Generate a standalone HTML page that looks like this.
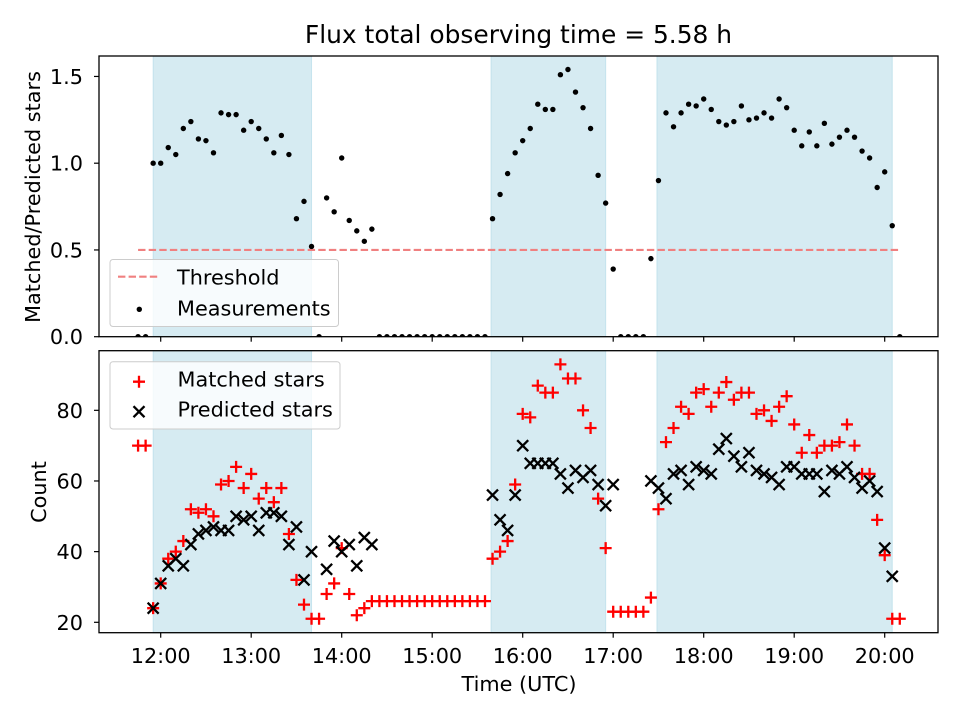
<!DOCTYPE html>
<html><head><meta charset="utf-8"><style>
html,body{margin:0;padding:0;background:#fff;}
svg{display:block;font-family:"DejaVu Sans","Liberation Sans",sans-serif;}
</style></head><body>
<svg id="fig" width="960" height="720" viewBox="0 0 960 720" xmlns="http://www.w3.org/2000/svg">
<defs>
<clipPath id="clipTop"><rect x="99" y="56" width="839" height="280.7"/></clipPath>
<clipPath id="clipBot"><rect x="99" y="350.7" width="839" height="282"/></clipPath>
</defs>
<rect width="960" height="720" fill="#fff"/>
<text x="518.5" y="43" text-anchor="middle" font-size="24.9" fill="#000">Flux total observing time = 5.58 h</text>
<g id="topPanel"></g>
<g id="botPanel"></g>
<text x="519" y="691" text-anchor="middle" font-size="20.8">Time (UTC)</text>
<text transform="translate(40,197) rotate(-90)" text-anchor="middle" font-size="20.8">Matched/Predicted stars</text>
<text transform="translate(46,492) rotate(-90)" text-anchor="middle" font-size="20.8">Count</text>
</svg>
<script>
const times = ("11:45 11:50 11:55 12:00 12:05 12:10 12:15 12:20 12:25 12:30 12:35 12:40 12:45 12:50 12:55 " +
"13:00 13:05 13:10 13:15 13:20 13:25 13:30 13:35 13:40 13:45 13:50 13:55 14:00 14:05 14:10 14:15 14:20 14:25 14:30 14:35 14:40 14:45 14:50 14:55 " +
"15:00 15:05 15:10 15:15 15:20 15:25 15:30 15:35 15:40 15:45 15:50 15:55 16:00 16:05 16:10 16:15 16:20 16:25 16:30 16:35 16:40 16:45 16:50 16:55 " +
"17:00 17:05 17:10 17:15 17:20 17:25 17:30 17:35 17:40 17:45 17:50 17:55 18:00 18:05 18:10 18:15 18:20 18:25 18:30 18:35 18:40 18:45 18:50 18:55 " +
"19:00 19:05 19:10 19:15 19:20 19:25 19:30 19:35 19:40 19:45 19:50 19:55 20:00 20:05 20:10").split(" ");
const ratio = [0,0,1.00,1.00,1.09,1.05,1.20,1.24,1.14,1.13,1.06,1.29,1.28,1.28,1.19,1.24,1.20,1.14,1.06,1.16,1.05,0.68,0.78,0.52,0,0.80,0.72,1.03,0.67,0.61,0.55,0.62,
0,0,0,0,0,0,0,0,0,0,0,0,0,0,0,
0.68,0.82,0.94,1.06,1.13,1.20,1.34,1.31,1.31,1.51,1.54,1.41,1.32,1.20,0.93,0.77,0.39,
0,0,0,0,
0.45,0.90,1.29,1.21,1.29,1.34,1.33,1.37,1.31,1.24,1.22,1.24,1.33,1.25,1.26,1.29,1.26,1.37,1.32,1.19,1.10,1.18,1.10,1.23,1.11,1.15,1.19,1.15,1.07,1.03,0.86,0.95,0.64,0];
const matched = [70,70,24,31,38,40,43,52,51,52,50,59,60,64,58,62,55,58,54,58,45,32,25,21,21,28,31,41,28,22,24,26,
26,26,26,26,26,26,26,26,26,26,26,26,26,26,26,
38,40,43,59,79,78,87,85,85,93,89,89,80,75,55,41,23,
23,23,23,23,
27,52,71,75,81,79,85,86,81,85,88,83,85,85,79,80,77,81,84,76,68,73,68,70,70,71,76,70,62,62,49,39,21,21];
const predicted = [null,null,24,31,36,38,36,42,45,46,47,46,46,50,49,50,46,51,51,50,42,47,32,40,null,35,43,40,42,36,44,42,
null,null,null,null,null,null,null,null,null,null,null,null,null,null,null,
56,49,46,56,70,65,65,65,65,62,58,63,61,63,59,53,59,
null,null,null,null,
60,58,55,62,63,59,64,63,62,69,72,67,64,68,63,62,61,59,64,64,62,62,62,57,63,62,64,61,58,60,57,41,33,null];
const spanStart = ["11:55","15:39","17:29"];
const spanEnd = ["13:40","16:55","20:05"];
const xTicks = ["12:00","13:00","14:00","15:00","16:00","17:00","18:00","19:00","20:00"];
const topYTicks = [0.0,0.5,1.0,1.5];
const botYTicks = [20,40,60,80];
const threshold = 0.5;

const NS="http://www.w3.org/2000/svg";
const L=99,R=938,TT=56,TB=336.7,BT=350.7,BB=632.7;
function hrs(s){const p=s.split(":");return +p[0]+(+p[1])/60;}
function X(s){return 160.7+90.5*(hrs(s)-12);}
function YT(v){return TB-v*173.5;}
function YB(v){return 622.3-(v-20)*3.533;}
function mk(tag,attrs,parent){const e=document.createElementNS(NS,tag);for(const k in attrs)e.setAttribute(k,attrs[k]);parent.appendChild(e);return e;}
const topG=document.getElementById('topPanel'), botG=document.getElementById('botPanel');

function panel(g,y0,y1,clip,yTicks,Y,fmt,nm){
  for(let i=0;i<spanStart.length;i++){
    const r=mk('rect',{x:X(spanStart[i]),y:y0,width:X(spanEnd[i])-X(spanStart[i]),height:y1-y0,fill:'#add8e6','fill-opacity':0.5,stroke:'#add8e6','stroke-opacity':0.6,'stroke-width':1},g);
    
    
  }
  const marks=mk('g',{'clip-path':'url(#'+clip+')'},g);
  
  
  for(const t of xTicks){
    const tk=mk('line',{x1:X(t),x2:X(t),y1:y1,y2:y1+5,stroke:'#000','stroke-width':1.2},g);
    
    
  }
  for(const v of yTicks){
    const tk=mk('line',{x1:L-5,x2:L,y1:Y(v),y2:Y(v),stroke:'#000','stroke-width':1.2},g);
    
    
    const tl=mk('text',{x:83,y:Y(v)+7.5,'text-anchor':'end','font-size':20.8},g);
    tl.textContent=fmt(v);
    
    
  }
  return marks;
}
const topMarks=panel(topG,TT,TB,'clipTop',topYTicks,YT,v=>v.toFixed(1),'top');
const botMarks=panel(botG,BT,BB,'clipBot',botYTicks,YB,v=>String(v),'bottom');

const th=mk('line',{x1:X(times[0]),x2:X(times[times.length-1]),y1:YT(threshold),y2:YT(threshold),stroke:'#f08080','stroke-width':2.2,'stroke-dasharray':'7.4,3.2'},topMarks);


ratio.forEach((v,i)=>{
  const c=mk('circle',{cx:X(times[i]),cy:YT(v),r:2.7,fill:'#000'},topMarks);
  
  
});
function plus(g,x,y){return mk('path',{d:`M${x-6},${y}H${x+6}M${x},${y-6}V${y+6}`,stroke:'#f00','stroke-width':2.3,fill:'none'},g);}
function cross(g,x,y){return mk('path',{d:`M${x-5.5},${y-5.5}L${x+5.5},${y+5.5}M${x-5.5},${y+5.5}L${x+5.5},${y-5.5}`,stroke:'#000','stroke-width':2.3,fill:'none'},g);}
matched.forEach((v,i)=>{
  if(v===null)return;
  const p=plus(botMarks,X(times[i]),YB(v));
  
  
});
predicted.forEach((v,i)=>{
  if(v===null)return;
  const p=cross(botMarks,X(times[i]),YB(v));
  
  
});
for(const t of xTicks){
  const tl=mk('text',{x:X(t),y:663,'text-anchor':'middle','font-size':20.8},botG);
  tl.textContent=t;
  
  
}
const f1=mk('rect',{x:L,y:TT,width:R-L,height:TB-TT,fill:'none',stroke:'#000','stroke-width':1.3},topG);


const f2=mk('rect',{x:L,y:BT,width:R-L,height:BB-BT,fill:'none',stroke:'#000','stroke-width':1.3},botG);



const lg1=mk('g',{},topG);


mk('rect',{x:110,y:259.5,width:228.5,height:67,rx:3,fill:'#fff','fill-opacity':0.8,stroke:'#ccc','stroke-width':1},lg1);
mk('line',{x1:118,x2:160,y1:276.7,y2:276.7,stroke:'#f08080','stroke-width':2.2,'stroke-dasharray':'7.4,3.2'},lg1);
let t1=mk('text',{x:177,y:284.5,'font-size':20.8},lg1);t1.textContent='Threshold';


mk('circle',{cx:139.3,cy:309.3,r:2.7,fill:'#000'},lg1);
let t2=mk('text',{x:177,y:315.5,'font-size':20.8},lg1);t2.textContent='Measurements';



const lg2=mk('g',{},botG);


mk('rect',{x:110,y:361.7,width:230,height:67.3,rx:3,fill:'#fff','fill-opacity':0.8,stroke:'#ccc','stroke-width':1},lg2);
plus(lg2,139,381.7);
let t3=mk('text',{x:177.5,y:386.5,'font-size':20.8},lg2);t3.textContent='Matched stars';


cross(lg2,139,411.7);
let t4=mk('text',{x:177.5,y:416.5,'font-size':20.8},lg2);t4.textContent='Predicted stars';


</script>
</body></html>
